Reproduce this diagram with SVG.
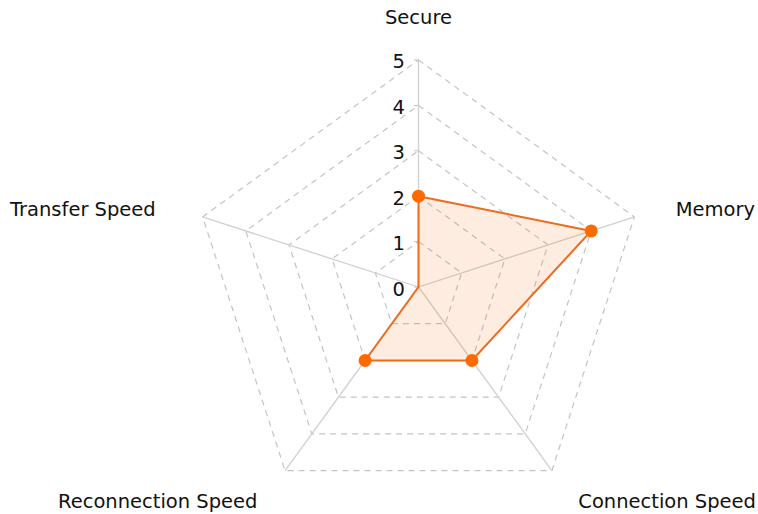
<svg xmlns="http://www.w3.org/2000/svg" width="758" height="514" viewBox="0 0 758 514">
<style>
.grid{fill:none;stroke:#c4c4c4;stroke-width:1.2;stroke-dasharray:6,5}
.axis{stroke:#d0d0d0;stroke-width:1.3;fill:none}
.tick{stroke:#c0c0c0;stroke-width:1}
.lbl{font-family:"DejaVu Sans","Verdana",sans-serif;font-size:19.5px;fill:#111}
.num{font-family:"DejaVu Sans","Verdana",sans-serif;font-size:19.5px;fill:#111;text-anchor:end}
.area{fill:#ff6a13;fill-opacity:0.13;stroke:#f06a1c;stroke-width:2;stroke-linejoin:round}
.dot{fill:#ff6a00}
</style>
<rect width="758" height="514" fill="#ffffff"/>
<g id="grid">
<polygon class="grid" points="418.5,241.6 461.7,273.0 445.2,323.7 391.8,323.7 375.3,273.0"/>
<polygon class="grid" points="418.5,196.2 504.9,258.9 471.9,360.5 365.1,360.5 332.1,258.9"/>
<polygon class="grid" points="418.5,150.8 548.0,244.9 498.6,397.2 338.4,397.2 289.0,244.9"/>
<polygon class="grid" points="418.5,105.4 591.2,230.9 525.2,433.9 311.8,433.9 245.8,230.9"/>
<polygon class="grid" points="418.5,60 634.4,216.9 551.9,470.6 285.1,470.6 202.6,216.9"/>
</g>
<g id="axes">
<line class="axis" x1="418.5" y1="287" x2="418.5" y2="60"/>
<line class="axis" x1="418.5" y1="287" x2="634.4" y2="216.9"/>
<line class="axis" x1="418.5" y1="287" x2="551.9" y2="470.6"/>
<line class="axis" x1="418.5" y1="287" x2="285.1" y2="470.6"/>
<line class="axis" x1="418.5" y1="287" x2="202.6" y2="216.9"/>
<line class="tick" x1="414" y1="287" x2="418.5" y2="287"/>
<line class="tick" x1="414" y1="241.6" x2="418.5" y2="241.6"/>
<line class="tick" x1="414" y1="196.2" x2="418.5" y2="196.2"/>
<line class="tick" x1="414" y1="150.8" x2="418.5" y2="150.8"/>
<line class="tick" x1="414" y1="105.4" x2="418.5" y2="105.4"/>
<line class="tick" x1="414" y1="60" x2="418.5" y2="60"/>
</g>
<g id="scale">
<text class="num" x="405" y="296">0</text>
<text class="num" x="405" y="250">1</text>
<text class="num" x="405" y="205">2</text>
<text class="num" x="405" y="159">3</text>
<text class="num" x="405" y="114">4</text>
<text class="num" x="405" y="68">5</text>
</g>
<g id="series">
<polygon class="area" points="418.5,196.2 591.2,230.9 471.9,360.5 365.1,360.5 418.5,287"/>
<circle class="dot" cx="418.5" cy="196.2" r="6.5"/>
<circle class="dot" cx="591.2" cy="230.9" r="6.5"/>
<circle class="dot" cx="471.9" cy="360.5" r="6.5"/>
<circle class="dot" cx="365.1" cy="360.5" r="6.5"/>
</g>
<g id="labels">
<text class="lbl" x="418.5" y="24" text-anchor="middle">Secure</text>
<text class="lbl" x="755" y="216" text-anchor="end">Memory</text>
<text class="lbl" x="10" y="216">Transfer Speed</text>
<text class="lbl" x="58" y="508">Reconnection Speed</text>
<text class="lbl" x="756" y="508" text-anchor="end">Connection Speed</text>
</g>
</svg>
